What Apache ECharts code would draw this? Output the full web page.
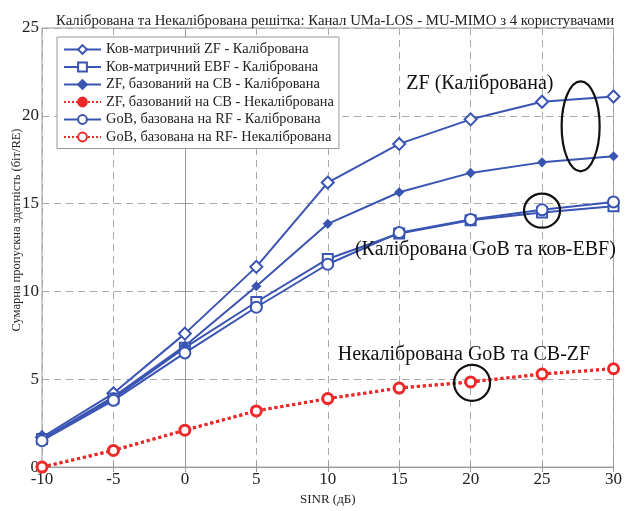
<!DOCTYPE html>
<html><head><meta charset="utf-8">
<script src="https://cdn.jsdelivr.net/npm/echarts@6/dist/echarts.min.js"></script>
<style>html,body{margin:0;padding:0;background:#fff}#c{width:625px;height:511px}</style>
</head><body><div id="c"></div>
<script>
const sinr = [-10, -5, 0, 5, 10, 15, 20, 25, 30];
const zfCovCal = [1.7, 4.2, 7.6, 11.4, 16.2, 18.4, 19.8, 20.8, 21.1];
const ebfCovCal = [1.6, 3.9, 6.8, 9.4, 11.85, 13.3, 14.05, 14.5, 14.85];
const zfCbCal = [1.6, 4.0, 6.9, 10.3, 13.85, 15.65, 16.75, 17.35, 17.7];
const zfCbUncal = [0, 0.95, 2.1, 3.2, 3.9, 4.5, 4.85, 5.3, 5.6];
const gobRfCal = [1.5, 3.8, 6.5, 9.1, 11.55, 13.35, 14.1, 14.65, 15.1];
const gobRfUncal = [0, 0.95, 2.1, 3.2, 3.9, 4.5, 4.85, 5.3, 5.6];
const yTicks = [0, 5, 10, 15, 20, 25];
const names = [
  'Ков-матричний ZF - Калібрована',
  'Ков-матричний EBF - Калібрована',
  'ZF, базований на CB - Калібрована',
  'ZF, базований на CB - Некалібрована',
  'GoB, базована на RF - Калібрована',
  'GoB, базована на RF- Некалібрована'
];
const annotations = [
  {text: 'ZF (Калібрована)', x: 15.5, y: 21.8},
  {text: '(Калібрована GoB та ков-EBF)', x: 11.9, y: 12.35},
  {text: 'Некалібрована GoB та CB-ZF', x: 10.7, y: 6.4}
];
const ellipses = [
  {x: 27.7, y: 19.4, rx: 19, ry: 45},
  {x: 25.0, y: 14.6, rx: 18, ry: 17},
  {x: 20.1, y: 4.8, rx: 18, ry: 18}
];

const BLUE = '#3a54b2', RED = '#ec2a2a';
const FONT = 'Liberation Serif';
const pair = arr => sinr.map((x, i) => [x, arr[i]]);

function blue(name, data, symbol, size, z) {
  return {name, type: 'line', data: pair(data), symbol, symbolSize: size, z,
    lineStyle: {color: BLUE, width: 2}, itemStyle: {color: BLUE, borderColor: BLUE, borderWidth: 1.5}};
}
function red(name, data, symbol, size, z) {
  return {name, type: 'line', data: pair(data), symbol, symbolSize: size, z,
    lineStyle: {color: RED, width: 3, type: 'dotted'}, itemStyle: {color: RED, borderColor: RED, borderWidth: 2}};
}

const chart = echarts.init(document.getElementById('c'), null, {renderer: 'canvas'});
const axisLine = {show: true, lineStyle: {color: '#999', width: 1}};
const gridLine = {show: true, lineStyle: {color: '#aaa', type: [7, 5], width: 1}};
chart.setOption({
  animation: false,
  backgroundColor: '#fff',
  title: {text: 'Калібрована та Некалібрована решітка: Канал UMa-LOS - MU-MIMO з 4 користувачами',
    left: 51, top: 9, textStyle: {fontFamily: FONT, fontSize: 14.8, fontWeight: 'normal', color: '#222'}},
  grid: {left: 42, right: 11, top: 28, bottom: 34, show: true, borderColor: '#999', borderWidth: 1},
  legend: {orient: 'vertical', left: 57, top: 37, itemWidth: 37, itemHeight: 11, itemGap: 2.5,
    padding: [5, 5, 4, 6], backgroundColor: '#fff', borderColor: '#999', borderWidth: 1,
    textStyle: {fontFamily: FONT, fontSize: 14.4, color: '#222', lineHeight: 15}, data: names},
  xAxis: [{type: 'value', min: -10, max: 30, interval: 5,
    axisLine, axisTick: {show: true, inside: true, length: 5, lineStyle: {color: '#999'}},
    axisLabel: {fontFamily: FONT, fontSize: 17, color: '#222', margin: 4},
    splitLine: gridLine,
    name: 'SINR (дБ)', nameLocation: 'middle', nameGap: 24,
    nameTextStyle: {fontFamily: FONT, fontSize: 13, color: '#222'}},
    {type: 'value', position: 'top', min: -10, max: 30, interval: 5, axisLine,
     axisTick: {show: true, inside: true, length: 5, lineStyle: {color: '#999'}}, axisLabel: {show: false}, splitLine: {show: false}}],
  yAxis: [{type: 'value', min: 0, max: 25, interval: 5,
    axisLine, axisTick: {show: true, inside: true, length: 5, lineStyle: {color: '#999'}},
    axisLabel: {fontFamily: FONT, fontSize: 17, color: '#222', margin: 3,
      formatter: v => yTicks.includes(v) ? String(v) : ''},
    splitLine: gridLine},
    {type: 'value', position: 'right', min: 0, max: 25, interval: 5, axisLine,
     axisTick: {show: true, inside: true, length: 5, lineStyle: {color: '#999'}}, axisLabel: {show: false}, splitLine: {show: false}}],
  series: [
    blue(names[0], zfCovCal, 'emptyDiamond', 12, 5),
    blue(names[1], ebfCovCal, 'emptyRect', 10, 5),
    blue(names[2], zfCbCal, 'diamond', 8, 5),
    red(names[3], zfCbUncal, 'circle', 11, 3),
    blue(names[4], gobRfCal, 'emptyCircle', 11, 5),
    red(names[5], gobRfUncal, 'emptyCircle', 9, 4)
  ]
});

function drawAnnotations() {
  const els = [];
  annotations.forEach(a => {
    const p = chart.convertToPixel({gridIndex: 0}, [a.x, a.y]);
    els.push({type: 'text', x: p[0], y: p[1], z: 100,
      style: {text: a.text, font: '20px "' + FONT + '"', fill: '#111', align: 'left', verticalAlign: 'middle'}});
  });
  ellipses.forEach(e => {
    const p = chart.convertToPixel({gridIndex: 0}, [e.x, e.y]);
    els.push({type: 'ellipse', z: 100,
      shape: {cx: p[0], cy: p[1], rx: e.rx, ry: e.ry}, style: {fill: 'none', stroke: '#111', lineWidth: 2.2}});
  });
  const mid = chart.convertToPixel({gridIndex: 0}, [-10, 13.5]);
  els.push({type: 'text', x: 17, y: mid[1], rotation: Math.PI / 2, z: 100,
    style: {text: 'Сумарна пропускна здатність (біт/RE)', font: '12.5px "' + FONT + '"', fill: '#222', align: 'center', verticalAlign: 'middle'}});
  chart.setOption({graphic: els});
}
drawAnnotations();
</script></body></html>
